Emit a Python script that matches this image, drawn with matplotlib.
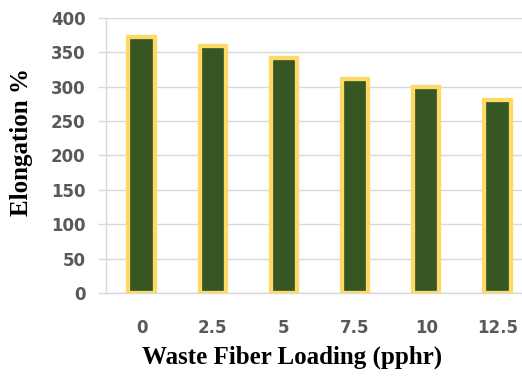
import matplotlib
matplotlib.use("Agg")
import matplotlib.pyplot as plt
import numpy as np

# Elongation at break vs waste fiber loading
loading = ["0", "2.5", "5", "7.5", "10", "12.5"]
elongation = [373, 359, 342, 311, 299, 280]

COLORS = {
    "bar": "#375623",
    "edge": "#FFD966",
    "grid": "#D9D9D9",
    "tick": "#595959",
    "label": "#000000",
}

fig = plt.figure(figsize=(5.22, 3.83), dpi=100, facecolor="white")
ax = fig.add_axes([0.2031, 0.2350, 0.818, 0.718])

x = np.arange(len(loading))
ax.bar(x, elongation, width=0.37, color=COLORS["bar"],
       edgecolor=COLORS["edge"], linewidth=3.1, zorder=3)

ax.set_xlim(-0.5, len(loading) - 0.5)
ax.set_ylim(0, 400)
ax.set_yticks(np.arange(0, 401, 50))
ax.set_xticks(x)
ax.set_xticklabels(loading)

ax.yaxis.grid(True, color=COLORS["grid"], linewidth=1.0, zorder=0)
ax.set_axisbelow(True)

for side in ["top", "right"]:
    ax.spines[side].set_visible(False)
for side in ["left", "bottom"]:
    ax.spines[side].set_color(COLORS["grid"])
    ax.spines[side].set_linewidth(1.0)

ax.tick_params(axis="y", length=5.8, width=1.0, color=COLORS["grid"], pad=9,
               labelsize=12, labelcolor=COLORS["tick"])
ax.tick_params(axis="x", length=0, pad=19, labelsize=12,
               labelcolor=COLORS["tick"])
for lbl in ax.get_xticklabels() + ax.get_yticklabels():
    lbl.set_fontweight("bold")
    lbl.set_fontfamily("DejaVu Sans")

ax.set_xlabel("Waste Fiber Loading (pphr)", fontsize=18, fontweight="bold",
              family="Liberation Serif", color=COLORS["label"])
ax.xaxis.set_label_coords(0.436, -0.19)
ax.set_ylabel("Elongation %", fontsize=18, fontweight="bold",
              family="Liberation Serif", color=COLORS["label"], va="center")
ax.yaxis.set_label_coords(-0.198, 0.549)

fig.savefig("out.png", dpi=100, facecolor="white")
plt.close(fig)
